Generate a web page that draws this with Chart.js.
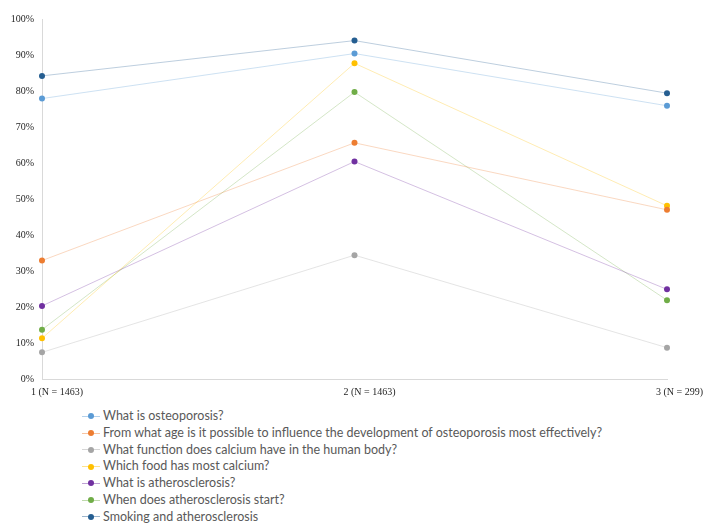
<!DOCTYPE html>
<html>
<head>
<meta charset="utf-8">
<script src="https://cdn.jsdelivr.net/npm/chart.js@4"></script>
<style>
  html, body { margin: 0; padding: 0; background: #fff; }
  #wrap { position: relative; width: 703px; height: 523px; overflow: hidden; }
  #c { position: absolute; left: 0; top: 0; }
  #legend { position: absolute; left: 82px; top: 408px; font-family: Lato, "Liberation Sans", sans-serif; font-size: 12.5px; color: #595959; }
  .item { height: 16.77px; line-height: 16.77px; white-space: nowrap; display: flex; align-items: center; }
  .mk { position: relative; width: 18px; height: 16px; margin-right: 3px; flex: none; }
  .mk .ln { position: absolute; left: 0; right: 0; top: 7.5px; height: 1px; }
  .mk .dt { position: absolute; left: 6px; top: 5px; width: 6px; height: 6px; border-radius: 50%; }
</style>
</head>
<body>
<div id="wrap">
  <canvas id="c" width="703" height="405"></canvas>
  <div id="legend"></div>
</div>
<script>
const categories = ["1 (N = 1463)", "2 (N = 1463)", "3 (N = 299)"];
const seriesNames = [
  "What is osteoporosis?",
  "From what age is it possible to influence the development of osteoporosis most effectively?",
  "What function does calcium have in the human body?",
  "Which food has most calcium?",
  "What is atherosclerosis?",
  "When does atherosclerosis start?",
  "Smoking and atherosclerosis"
];
const osteoporosis = [77.9, 90.4, 75.9];
const fromWhatAge = [32.9, 65.6, 47.0];
const calciumFunction = [7.4, 34.4, 8.7];
const foodCalcium = [11.3, 87.7, 48.1];
const atherosclerosis = [20.3, 60.4, 24.9];
const atheroStart = [13.7, 79.7, 21.9];
const smokingAthero = [84.2, 94.0, 79.4];
const yTicks = [0, 10, 20, 30, 40, 50, 60, 70, 80, 90, 100];

const seriesValues = [osteoporosis, fromWhatAge, calciumFunction, foodCalcium, atherosclerosis, atheroStart, smokingAthero];
const colors = ["#5B9BD5", "#ED7D31", "#A5A5A5", "#FFC000", "#7030A0", "#70AD47", "#255E91"];

function hexA(hex, a) {
  const n = parseInt(hex.slice(1), 16);
  return `rgba(${(n >> 16) & 255},${(n >> 8) & 255},${n & 255},${a})`;
}

const datasets = seriesNames.map((name, i) => ({
  label: name,
  data: seriesValues[i],
  borderColor: hexA(colors[i], 0.3),
  backgroundColor: colors[i],
  borderWidth: 1,
  pointRadius: 3,
  pointHoverRadius: 3,
  pointBorderWidth: 0,
  pointBackgroundColor: colors[i],
  tension: 0,
  fill: false
}));

new Chart(document.getElementById("c"), {
  type: "line",
  data: { labels: categories, datasets },
  options: {
    responsive: false,
    animation: false,
    layout: { padding: { top: 19, right: 36, left: 0, bottom: 0 } },
    plugins: { legend: { display: false }, tooltip: { enabled: false } },
    scales: {
      x: {
        offset: false,
        grid: { display: false, drawTicks: false },
        border: { display: true, color: "#d9d9d9", width: 1 },
        ticks: {
          align: "start",
          labelOffset: -11,
          padding: 7,
          color: "#262626",
          font: { family: "'Liberation Serif', serif", size: 10 },
          maxRotation: 0,
          autoSkip: false
        },
        afterFit: s => { s.height = 26; s.paddingLeft = 0; s.paddingRight = 0; }
      },
      y: {
        min: 0,
        max: 100,
        grid: { display: false, drawTicks: false },
        border: { display: true, color: "#d9d9d9", width: 1 },
        afterBuildTicks: s => { s.ticks = yTicks.map(v => ({ value: v })); },
        ticks: {
          padding: 8,
          color: "#262626",
          font: { family: "'Liberation Serif', serif", size: 10 },
          callback: v => v + "%"
        },
        afterFit: s => { s.width = 42; }
      }
    }
  }
});

const lg = document.getElementById("legend");
seriesNames.forEach((name, i) => {
  const it = document.createElement("div");
  it.className = "item";
  it.innerHTML = `<span class="mk"><span class="ln" style="background:${hexA(colors[i], 0.45)}"></span><span class="dt" style="background:${colors[i]}"></span></span><span></span>`;
  it.lastChild.textContent = name;
  lg.appendChild(it);
});
</script>
</body>
</html>
